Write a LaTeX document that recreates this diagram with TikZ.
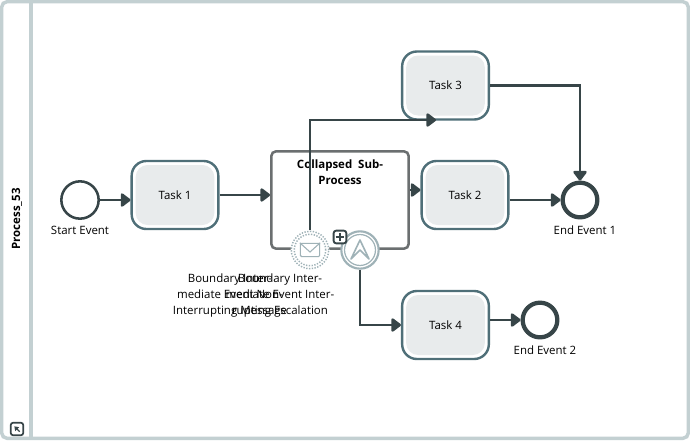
\documentclass[tikz,border=0pt]{standalone}
\usepackage{fontspec}
\setmainfont{Open Sans}
\usepackage{tikz}
\usetikzlibrary{calc,positioning,arrows.meta}

\definecolor{frameline}{HTML}{C3D0D2}
\definecolor{flowline}{HTML}{374548}
\definecolor{taskline}{HTML}{4F6F78}
\definecolor{taskfill}{HTML}{E8EBEC}
\definecolor{subline}{HTML}{6B6F70}
\definecolor{boundline}{HTML}{9FB2B7}

\begin{document}
\begin{tikzpicture}[x=.75pt,y=-.75pt,font=\fontsize{8.6}{12}\selectfont,
>={Triangle[round,length=8pt,width=11.5pt]},
flow/.style={->,draw=flowline,line width=2pt},
task/.style={draw=taskline,line width=1.8pt,fill=white,rounded corners=11pt,minimum width=65pt,minimum height=51pt,inner sep=0pt,
  path picture={\fill[taskfill,rounded corners=9pt] ($(path picture bounding box.south west)+(3pt,3pt)$) rectangle ($(path picture bounding box.north east)+(-3pt,-3pt)$);}},
startev/.style={circle,draw=flowline,line width=1.9pt,fill=white,minimum size=28pt,inner sep=0pt},
endev/.style={circle,draw=flowline,line width=3.2pt,fill=white,minimum size=26pt,inner sep=0pt},
caption/.style={align=center,inner sep=0pt,text=black}]
\useasboundingbox (0,0) rectangle (690,440);
\draw[frameline,line width=2.6pt,rounded corners=4pt] (1.7,1.7) rectangle (688.3,438.3);
\draw[frameline,line width=2.6pt] (31,2) -- (31,438);
\node (title) at (17,219)[rotate=90]{\bfseries\fontsize{8.6}{10}\selectfont Process\_53};
\node (collapse) at (17,429)[draw=flowline,line width=1.3pt,rounded corners=2pt,minimum size=9.5pt,inner sep=0pt]{};
\draw[flowline,line width=1pt,-{Triangle[length=3pt,width=4pt]}] ($(collapse)+(2pt,-2pt)$) -- ($(collapse)+(-2pt,2pt)$);

\node (sub) at (340,200)[draw=subline,line width=1.9pt,fill=white,rounded corners=3.5pt,minimum width=103pt,minimum height=73pt]{};
\node (subtext) at (340,172)[align=center,inner sep=0pt]{\bfseries Collapsed\ \ Sub-\\\bfseries Process};
\node (task1) at (175,195)[task]{Task 1};
\node (task2) at (465,195)[task]{Task 2};
\node (task3) at (445.5,85.5)[task]{Task 3};
\node (task4) at (445.5,325)[task]{Task 4};
\node (start) at (80,200)[startev]{};
\node (end1) at (580,200)[endev]{};
\node (end2) at (540,320)[endev]{};
\coordinate (subleft) at ($(sub.west)+(0,-5)$);
\coordinate (subright) at ($(sub.east)+(0,-10)$);
\coordinate (task2left) at ($(task2.west)+(0,-5)$);
\coordinate (task3in) at (436,120);
\draw[flow] (start) -- (task1.west |- start);
\draw[flow] (task1) -- (subleft);
\draw[flow] (subright) -- (task2left);
\draw[flow] (task2.east |- end1) -- (end1);
\draw[flow] (task3.east) -| (end1);
\node (bmsg) at (310,250)[circle,fill=white,minimum size=29pt,inner sep=0pt]{};
\draw[flow] (bmsg) |- (task3in);
\node (besc) at (360,250)[circle,draw=boundline,line width=1.6pt,fill=white,minimum size=28pt,inner sep=0pt]{};
\draw[flow] (besc) |- (task4.west);
\draw[flow] (task4.east |- end2) -- (end2);
\draw[boundline,line width=.9pt] (besc) circle (11.6pt);
\draw[boundline,line width=1.1pt,dash pattern=on 1pt off 1.1pt] (bmsg) circle (14pt) (bmsg) circle (11.8pt);
\node (plus) at (340,237)[draw=flowline,line width=1.4pt,fill=white,rounded corners=2pt,minimum size=9.6pt,inner sep=0pt]{};
\draw[flowline,line width=1.4pt] ($(plus)+(-3.3pt,0)$) -- ($(plus)+(3.3pt,0)$) ($(plus)+(0,-3.3pt)$) -- ($(plus)+(0,3.3pt)$);
\node (envelope) at (310,250)[draw=boundline,line width=.8pt,rounded corners=1pt,minimum width=14.5pt,minimum height=10pt,inner sep=0pt]{};
\draw[boundline,line width=.8pt] (envelope.north west) -- ($(envelope.center)+(0,-1.5pt)$) -- (envelope.north east);
\draw[boundline,line width=1.2pt,line join=round] (351,259) -- (360,240) -- (369,259) -- (360,250) -- cycle;

\node (startlabel) at (80,230)[caption]{Start Event};
\node (end1label) at (585,230)[caption]{End Event 1};
\node (end2label) at (545,350)[caption]{End Event 2};
\node (msglabel) at (230,296)[caption]{Boundary Inter-\\mediate Event Non-\\Interrupting Message};
\node (esclabel) at (280,296)[caption]{Boundary Inter-\\mediate Event Inter-\\rupting Escalation};
\end{tikzpicture}
\end{document}
